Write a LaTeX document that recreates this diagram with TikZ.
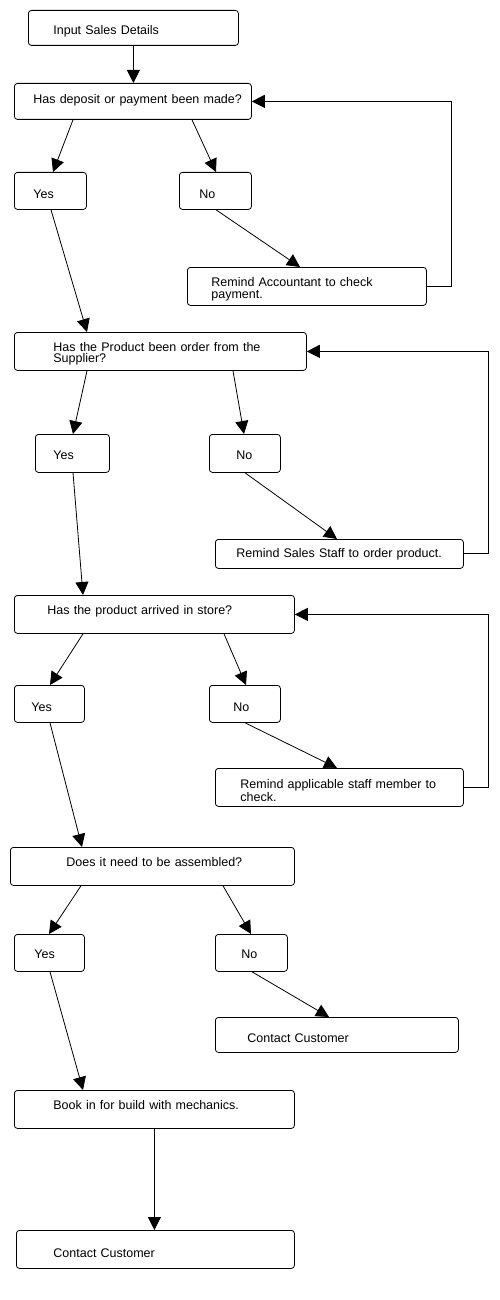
\documentclass[tikz,border=0pt]{standalone}
\usepackage{fontspec}
\setmainfont{Liberation Sans}
\usetikzlibrary{arrows.meta}
\tikzset{
  box/.style={draw, line width=0.8pt, rounded corners=3pt, anchor=north west,
    align=left, inner xsep=0pt, inner ysep=0pt, font=\fontsize{12.5}{11.4}\selectfont},
  pad/.style={execute at begin node={\leftskip=#1\relax}},
  base/.style={text height={10pt+#1}, text depth={10pt-#1}},
  flow/.style={line width=0.8pt, -{Triangle[length=13pt,width=13pt]}},
  loopback/.style={line width=1pt, -{Triangle[length=13pt,width=13pt]}}
}
\begin{document}
\begin{tikzpicture}[x=1pt, y=-1pt]
  \useasboundingbox (0,0) rectangle (500,1300);

  % Payment
  \node[box, text width=210pt, minimum height=35pt, pad=25pt, base=6.5pt] (input) at (28,10) {Input Sales Details};
  \node[box, text width=237pt, minimum height=36pt, pad=19pt, base=2.3pt] (dep) at (14,83) {Has deposit or payment been made?};
  \node[box, text width=72pt, minimum height=37pt, pad=19pt, base=7.3pt] (yes1) at (14,172) {Yes};
  \node[box, text width=72pt, minimum height=37pt, pad=20pt, base=7.3pt] (no1) at (179,172) {No};
  \node[box, text width=239pt, minimum height=38pt, pad=24pt, base=0.5pt] (acc) at (187,267) {Remind Accountant to check\\payment.};

  % Supplier order
  \node[box, text width=292pt, minimum height=38pt, pad=39pt, base=0pt] (ord) at (14,332) {Has the Product been order from the\\Supplier?};
  \node[box, text width=74pt, minimum height=38pt, pad=18pt, base=6.3pt] (yes2) at (35,434) {Yes};
  \node[box, text width=71pt, minimum height=38pt, pad=27pt, base=6.3pt] (no2) at (209,434) {No};
  \node[box, text width=248pt, minimum height=29pt, pad=21pt, base=3.2pt] (staff) at (215,539) {Remind Sales Staff to order product.};

  % Arrival in store
  \node[box, text width=280pt, minimum height=38pt, pad=33pt, base=0.3pt] (arr) at (14,595) {Has the product arrived in store?};
  \node[box, text width=70pt, minimum height=37pt, pad=17pt, base=7.2pt] (yes3) at (14,685) {Yes};
  \node[box, text width=71pt, minimum height=37pt, pad=24pt, base=7.2pt] (no3) at (209,685) {No};
  \node[box, text width=248pt, minimum height=38pt, pad=25pt, base=1.5pt] (chk) at (215,768) {Remind applicable staff member to\\check.};

  % Assembly
  \node[box, text width=284pt, minimum height=38pt, pad=56pt, base=0.3pt] (asm) at (10,847) {Does it need to be assembled?};
  \node[box, text width=70pt, minimum height=37pt, pad=20pt, base=5.8pt] (yes4) at (14,934) {Yes};
  \node[box, text width=72pt, minimum height=37pt, pad=26pt, base=5.8pt] (no4) at (215,934) {No};
  \node[box, text width=243pt, minimum height=35pt, pad=32pt, base=7.5pt] (cust1) at (215,1017) {Contact Customer};
  \node[box, text width=280pt, minimum height=38pt, pad=39pt, base=0.3pt] (book) at (14,1090) {Book in for build with mechanics.};
  \node[box, text width=278pt, minimum height=38pt, pad=37pt, base=7.7pt] (cust2) at (16,1230) {Contact Customer};

  % Arrows
  \draw[flow] (input.south) -- (input.south |- dep.north);
  \draw[flow] ([xshift=59pt]dep.south west) -- ([xshift=39pt]yes1.north west);
  \draw[flow] ([xshift=178pt]dep.south west) -- ([xshift=37pt]no1.north west);
  \draw[flow] ([xshift=37pt]yes1.south west) -- ([xshift=73pt]ord.north west);
  \draw[flow] ([xshift=37pt]no1.south west) -- ([xshift=113pt]acc.north west);
  \draw[loopback] (acc.east) -- ++(25,0) |- (dep.east);

  \draw[flow] ([xshift=73pt]ord.south west) -- ([xshift=38pt]yes2.north west);
  \draw[flow] ([xshift=219pt]ord.south west) -- ([xshift=35pt]no2.north west);
  \draw[flow] ([xshift=38pt]yes2.south west) -- ([xshift=69pt]arr.north west);
  \draw[flow] ([xshift=36pt]no2.south west) -- ([xshift=122pt]staff.north west);
  \draw[loopback] (staff.east) -- ++(25,0) |- (ord.east);

  \draw[flow] ([xshift=69pt]arr.south west) -- ([xshift=36pt]yes3.north west);
  \draw[flow] ([xshift=210pt]arr.south west) -- ([xshift=37pt]no3.north west);
  \draw[flow] ([xshift=36pt]yes3.south west) -- ([xshift=72pt]asm.north west);
  \draw[flow] ([xshift=36pt]no3.south west) -- ([xshift=122pt]chk.north west);
  \draw[loopback] (chk.east) -- ++(25,0) |- (arr.east);

  \draw[flow] ([xshift=71pt]asm.south west) -- ([xshift=35pt]yes4.north west);
  \draw[flow] ([xshift=213pt]asm.south west) -- ([xshift=36pt]no4.north west);
  \draw[flow] ([xshift=36pt]yes4.south west) -- ([xshift=69pt]book.north west);
  \draw[flow] ([xshift=37pt]no4.south west) -- ([xshift=114pt]cust1.north west);
  \draw[flow] (book.south) -- (book.south |- cust2.north);
\end{tikzpicture}
\end{document}
